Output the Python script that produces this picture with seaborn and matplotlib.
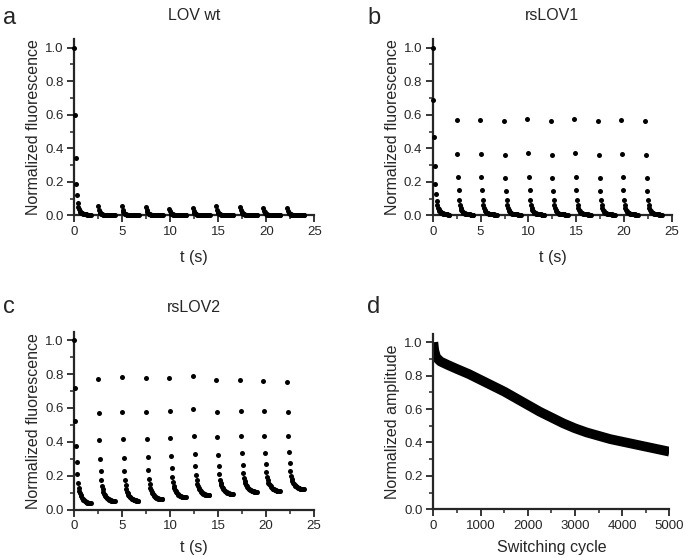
import numpy as np
import pandas as pd
import matplotlib
matplotlib.use("Agg")
import matplotlib.pyplot as plt
from matplotlib.ticker import MultipleLocator
import seaborn as sns

sns.set_style("ticks")
plt.rcParams['font.family'] = ['Liberation Sans', 'DejaVu Sans']

# start of each switching cycle (s) and frame interval
cycle_start = [0, 2.5, 4.95, 7.45, 9.9, 12.35, 14.8, 17.3, 19.7, 22.2]
frame_dt = 0.07

# LOV wt
wt_first = [1.0, 0.6, 0.34, 0.19, 0.12, 0.075, 0.05, 0.036, 0.027, 0.021, 0.017, 0.014, 0.012,
            0.010, 0.009, 0.008, 0.007, 0.006, 0.006, 0.005, 0.005, 0.004, 0.004, 0.004, 0.003, 0.003]
wt_cycle = [0.05, 0.03, 0.02, 0.014, 0.010, 0.008, 0.006, 0.005, 0.005, 0.004, 0.004, 0.004, 0.003,
            0.003, 0.003, 0.003, 0.003, 0.003, 0.003, 0.003, 0.003, 0.003, 0.003, 0.003, 0.003, 0.003]
wt_peaks = [0.054, 0.054, 0.050, 0.040, 0.044, 0.056, 0.050, 0.046, 0.044]

# rsLOV1
r1_first = [1.0, 0.69, 0.466, 0.295, 0.187, 0.128, 0.087, 0.062, 0.046, 0.036, 0.029, 0.024, 0.020,
            0.017, 0.015, 0.013, 0.011, 0.010, 0.009, 0.008, 0.007, 0.006, 0.006, 0.005, 0.005, 0.004]
r1_cycle = [0.57, 0.366, 0.227, 0.15, 0.094, 0.063, 0.045, 0.034, 0.026, 0.021, 0.017, 0.014, 0.012,
            0.011, 0.010, 0.009, 0.008, 0.007, 0.007, 0.006, 0.006, 0.005, 0.005, 0.005, 0.004, 0.004]
r1_peaks = [0.57, 0.57, 0.56, 0.575, 0.56, 0.575, 0.565, 0.57, 0.565]

# rsLOV2
r2_first = [1.0, 0.72, 0.52, 0.375, 0.283, 0.21, 0.159, 0.13, 0.112, 0.098, 0.087, 0.078, 0.07,
            0.064, 0.059, 0.055, 0.051, 0.048, 0.046, 0.044, 0.042, 0.041, 0.040, 0.039, 0.038, 0.038]
r2_cycle = [0.77, 0.57, 0.41, 0.30, 0.226, 0.175, 0.142, 0.12, 0.105, 0.095, 0.087, 0.081, 0.076,
            0.071, 0.067, 0.064, 0.061, 0.059, 0.057, 0.055, 0.054, 0.053, 0.052, 0.052, 0.051, 0.051]
r2_peaks = [0.77, 0.78, 0.775, 0.775, 0.79, 0.765, 0.765, 0.76, 0.755]
r2_floors = [0.038, 0.05, 0.052, 0.06, 0.072, 0.085, 0.092, 0.105, 0.11, 0.12]

# switching fatigue (band centre)
fatigue_cycle = [0, 20, 60, 150, 300, 500, 750, 1000, 1250, 1500, 1750, 2000, 2250, 2500,
                 2750, 3000, 3250, 3500, 3750, 4000, 4250, 4500, 4750, 5000]
fatigue_amp = [1.0, 0.95, 0.91, 0.885, 0.865, 0.84, 0.81, 0.775, 0.74, 0.705, 0.665, 0.625, 0.585,
               0.55, 0.515, 0.485, 0.46, 0.44, 0.42, 0.405, 0.39, 0.375, 0.36, 0.345]


def build_trace(first, template, peaks, floors=None):
    template = np.array(template)
    shape = (template - template[-1]) / (template[0] - template[-1])
    rows = []
    for k, t0 in enumerate(cycle_start):
        if k == 0:
            vals = np.array(first)
        else:
            fl = template[-1] if floors is None else floors[k]
            vals = fl + (peaks[k - 1] - fl) * shape
        t = t0 + frame_dt * np.arange(len(vals))
        rows.append(pd.DataFrame({'t': t, 'F': vals}))
    return pd.concat(rows, ignore_index=True)


def style_axes(ax, xmax, xmajor, xminor):
    ax.set_xlim(0, xmax)
    ax.set_ylim(0, 1.05)
    ax.xaxis.set_major_locator(MultipleLocator(xmajor))
    ax.xaxis.set_minor_locator(MultipleLocator(xminor))
    ax.yaxis.set_minor_locator(MultipleLocator(0.1))
    ax.set_yticks(np.arange(0, 1.01, 0.2))
    for s in ['top', 'right']:
        ax.spines[s].set_visible(False)
    for s in ['left', 'bottom']:
        ax.spines[s].set_linewidth(1.6)
    ax.tick_params(which='major', direction='out', length=5, width=1.3, labelsize=9.5, pad=2.5)
    ax.tick_params(which='minor', direction='out', length=3, width=1.1)


fig = plt.figure(figsize=(6.85, 5.58), dpi=100)
ax_a = fig.add_axes([0.1085, 0.6138, 0.3504, 0.3161])
ax_b = fig.add_axes([0.6317, 0.6138, 0.3494, 0.3161])
ax_c = fig.add_axes([0.108, 0.0867, 0.3504, 0.319])
ax_d = fig.add_axes([0.6326, 0.0873, 0.3445, 0.3143])

panels = [
    (ax_a, build_trace(wt_first, wt_cycle, wt_peaks), 'LOV wt', 9),
    (ax_b, build_trace(r1_first, r1_cycle, r1_peaks), 'rsLOV1', 9),
    (ax_c, build_trace(r2_first, r2_cycle, r2_peaks, r2_floors), 'rsLOV2', 6),
]
for ax, df, title, xpad in panels:
    sns.scatterplot(data=df, x='t', y='F', ax=ax, color='black', s=13,
                    linewidth=0, clip_on=False, zorder=3)
    style_axes(ax, 25, 5, 2.5)
    ax.set_title(title, fontsize=11.5, pad=14)
    ax.set_xlabel('t (s)', fontsize=11.5, labelpad=xpad)
    ax.set_ylabel('Normalized fluorescence', fontsize=11.5, labelpad=3)

sns.lineplot(x=fatigue_cycle, y=fatigue_amp, ax=ax_d, color='black', linewidth=7,
             solid_capstyle='butt')
style_axes(ax_d, 5000, 1000, 500)
ax_d.set_xlabel('Switching cycle', fontsize=11.5, labelpad=6)
ax_d.set_ylabel('Normalized amplitude', fontsize=11.5, labelpad=3)

for lbl, x, y in [('a', 0.004, 0.987), ('b', 0.536, 0.987), ('c', 0.004, 0.47), ('d', 0.536, 0.47)]:
    fig.text(x, y, lbl, fontsize=17, ha='left', va='top')

fig.savefig('out.png', dpi=100)
